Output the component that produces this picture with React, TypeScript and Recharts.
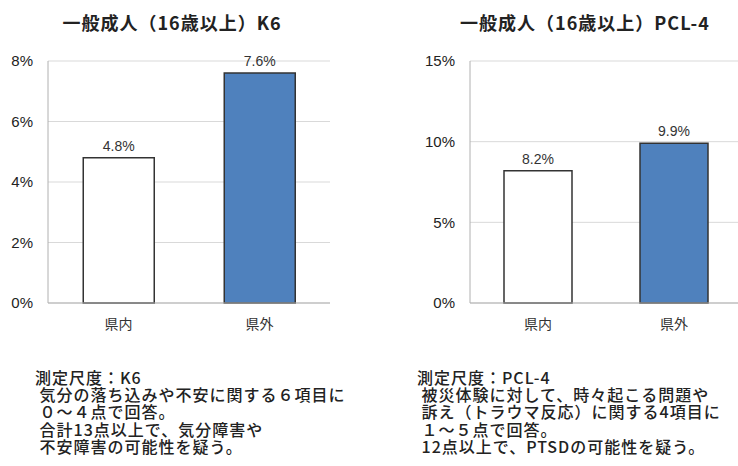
import React from "react";
import { BarChart, Bar, XAxis, YAxis, CartesianGrid, LabelList, Cell } from "recharts";

const categories = ["県内", "県外"];
const k6Values = [4.8, 7.6];
const pclValues = [8.2, 9.9];
const k6Ticks = [0, 2, 4, 6, 8];
const pclTicks = [0, 5, 10, 15];
const titles = ["一般成人（16歳以上）K6", "一般成人（16歳以上）PCL-4"];
const noteK6 = [
  "測定尺度：K6",
  " 気分の落ち込みや不安に関する６項目に",
  " ０～４点で回答。",
  " 合計13点以上で、気分障害や",
  " 不安障害の可能性を疑う。",
];
const notePcl = [
  "測定尺度：PCL-4",
  " 被災体験に対して、時々起こる問題や",
  " 訴え（トラウマ反応）に関する4項目に",
  " １～５点で回答。",
  " 12点以上で、PTSDの可能性を疑う。",
];
const barFills = ["#ffffff", "#4f81bd"];

const k6Data = categories.map((c, i) => ({ name: c, value: k6Values[i] }));
const pclData = categories.map((c, i) => ({ name: c, value: pclValues[i] }));

const FONT = "'Liberation Sans', Arial, 'Noto Sans CJK JP', sans-serif";
const CJK = "'Noto Sans CJK JP', sans-serif";

function Panel({ data, ticks, max, width, yWidth, right }: any) {
  return (
    <BarChart
      width={width}
      height={345}
      data={data}
      margin={{ top: 61, right, left: 0, bottom: 0 }}
      barCategoryGap="25%"
    >
      <CartesianGrid vertical={false} stroke="#d9d9d9" strokeWidth={1} />
      <XAxis
        dataKey="name"
        height={42}
        tickLine={false}
        axisLine={{ stroke: "#b0b0b0", strokeWidth: 1 }}
        tickSize={0}
        tickMargin={16}
        tick={{ fontSize: 14, fill: "#333", fontFamily: CJK }}
      />
      <YAxis
        width={yWidth}
        domain={[0, max]}
        ticks={ticks}
        interval={0}
        tickLine={false}
        axisLine={{ stroke: "#b0b0b0", strokeWidth: 1 }}
        tickSize={0}
        tickMargin={15}
        tickFormatter={(v: number) => `${v}%`}
        tick={{ fontSize: 15, fill: "#222", fontFamily: FONT }}
      />
      <Bar dataKey="value" isAnimationActive={false} stroke="#333" strokeWidth={1.5}>
        {data.map((_: any, i: number) => (
          <Cell key={i} fill={barFills[i]} />
        ))}
        <LabelList
          dataKey="value"
          position="top"
          offset={7}
          formatter={(v: number) => `${v.toFixed(1)}%`}
          style={{ fontSize: 14, fill: "#333", fontFamily: FONT }}
        />
      </Bar>
    </BarChart>
  );
}

const noteStyle: React.CSSProperties = {
  position: "absolute",
  top: 369,
  fontFamily: CJK,
  fontSize: 16,
  fontWeight: 500,
  letterSpacing: 1,
  lineHeight: "17.2px",
  color: "#222",
  whiteSpace: "pre",
};

const titleStyle: React.CSSProperties = {
  position: "absolute",
  width: 300,
  top: 10,
  textAlign: "center",
  fontFamily: CJK,
  fontWeight: 700,
  fontSize: 18,
  letterSpacing: 1,
  lineHeight: "24px",
  color: "#222",
};

export default function App() {
  return (
    <div
      style={{
        position: "absolute",
        left: 0,
        top: 0,
        width: 738,
        height: 466,
        overflow: "hidden",
        background: "#fff",
      }}
    >
      <div style={{ ...titleStyle, left: 172 - 150 }}>{titles[0]}</div>
      <div style={{ ...titleStyle, left: 585 - 150 }}>{titles[1]}</div>
      <div style={{ position: "absolute", left: 0, top: 0 }}>
        <Panel data={k6Data} ticks={k6Ticks} max={8} width={350} yWidth={48} right={20} />
      </div>
      <div style={{ position: "absolute", left: 420, top: 0 }}>
        <Panel data={pclData} ticks={pclTicks} max={15} width={322} yWidth={50} right={0} />
      </div>
      <div style={{ ...noteStyle, left: 35 }}>{noteK6.join("\n")}</div>
      <div style={{ ...noteStyle, left: 417 }}>{notePcl.join("\n")}</div>
    </div>
  );
}
